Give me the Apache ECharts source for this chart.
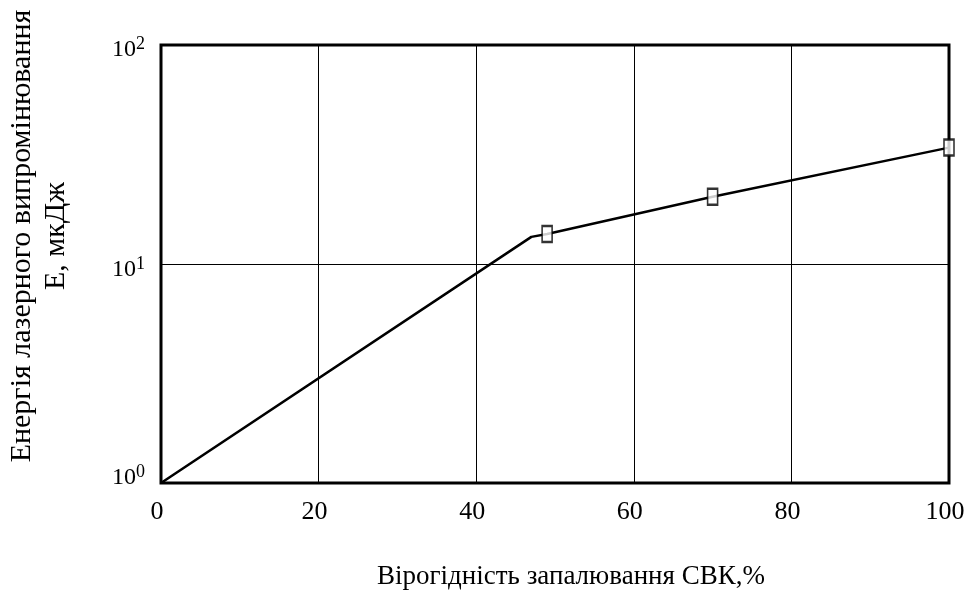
<!DOCTYPE html>
<html>
<head>
<meta charset="utf-8">
<script src="https://cdn.jsdelivr.net/npm/echarts@6/dist/echarts.min.js"></script>
<style>
  html, body { margin: 0; padding: 0; background: #fff; }
  #chart { width: 965px; height: 590px; }
</style>
</head>
<body>
<div id="chart"></div>
<script>
// Ignition probability (%) vs. laser radiation energy (mJ, log scale)
const probability = [0, 47, 49, 70, 100];
const energy = [1, 13.3, 13.7, 20.3, 34];
// Points drawn with markers (measured points)
const markedProbability = [49, 70, 100];
const markedEnergy = [13.7, 20.3, 34];
const xTicks = [0, 20, 40, 60, 80, 100];

const font = '"Liberation Serif", "Times New Roman", serif';

// Rich styles for the "10^n" tick labels: the end labels sit slightly inside the frame
function powerStyles(name, align, pad, supPad) {
  const styles = {};
  const basePad = align === 'top' ? [pad, 0, 0, 0] : [0, 0, pad, 0];
  const supPadding = align === 'top' ? [supPad, 0, 0, 0] : [0, 0, supPad, 0];
  styles['b' + name] = { color: '#000', fontFamily: font, fontSize: 24, lineHeight: 24, verticalAlign: align, padding: basePad };
  styles['s' + name] = { color: '#000', fontFamily: font, fontSize: 18, lineHeight: 18, verticalAlign: align, padding: supPadding };
  return styles;
}
const powerRich = Object.assign({},
  powerStyles('lo', 'bottom', 5, 14),
  powerStyles('mid', 'top', 6, 3),
  powerStyles('hi', 'top', 5, 2)
);

const chart = echarts.init(document.getElementById('chart'));
chart.setOption({
  animation: false,
  backgroundColor: '#fff',
  grid: {
    left: 161, right: 16, top: 45, bottom: 107,
    outerBoundsMode: 'none', containLabel: false,
    show: true, borderColor: '#000', borderWidth: 3, backgroundColor: 'transparent'
  },
  xAxis: {
    type: 'value', min: xTicks[0], max: xTicks[xTicks.length - 1], interval: 20,
    axisLine: { show: false }, axisTick: { show: false },
    splitLine: { show: true, lineStyle: { color: '#000', width: 1 } },
    axisLabel: { color: '#000', fontFamily: font, fontSize: 26, margin: 16, padding: [0, 8, 0, 0] },
    name: 'Вірогідність запалювання СВК,%',
    nameLocation: 'middle', nameGap: 80,
    nameTextStyle: { color: '#000', fontFamily: font, fontSize: 27, padding: [0, 0, 0, 32] }
  },
  yAxis: {
    type: 'log', logBase: 10, min: 1, max: 100,
    axisLine: { show: false }, axisTick: { show: false },
    minorTick: { show: false }, minorSplitLine: { show: false },
    splitLine: { show: true, lineStyle: { color: '#000', width: 1 } },
    axisLabel: {
      margin: 16,
      formatter: v => {
        const n = Math.round(Math.log10(v));
        const key = n === 0 ? 'lo' : (n === 2 ? 'hi' : 'mid');
        return '{b' + key + '|10}{s' + key + '|' + n + '}';
      },
      rich: powerRich
    },
    name: 'Енергія лазерного випромінювання\nE, мкДж',
    nameLocation: 'middle', nameGap: 88, nameRotate: 90,
    nameTextStyle: { color: '#000', fontFamily: font, fontSize: 30, lineHeight: 34, padding: [0, 0, 0, 56] }
  },
  series: [
    {
      type: 'line',
      data: probability.map((p, i) => [p, energy[i]]),
      showSymbol: false, symbol: 'none',
      lineStyle: { color: '#000', width: 2.5 },
      z: 3
    },
    {
      type: 'scatter',
      data: markedProbability.map((p, i) => [p, markedEnergy[i]]),
      symbol: 'rect', symbolSize: [10, 16],
      itemStyle: { color: '#fff', borderColor: '#000', borderWidth: 2 },
      z: 4
    }
  ]
});
</script>
</body>
</html>
